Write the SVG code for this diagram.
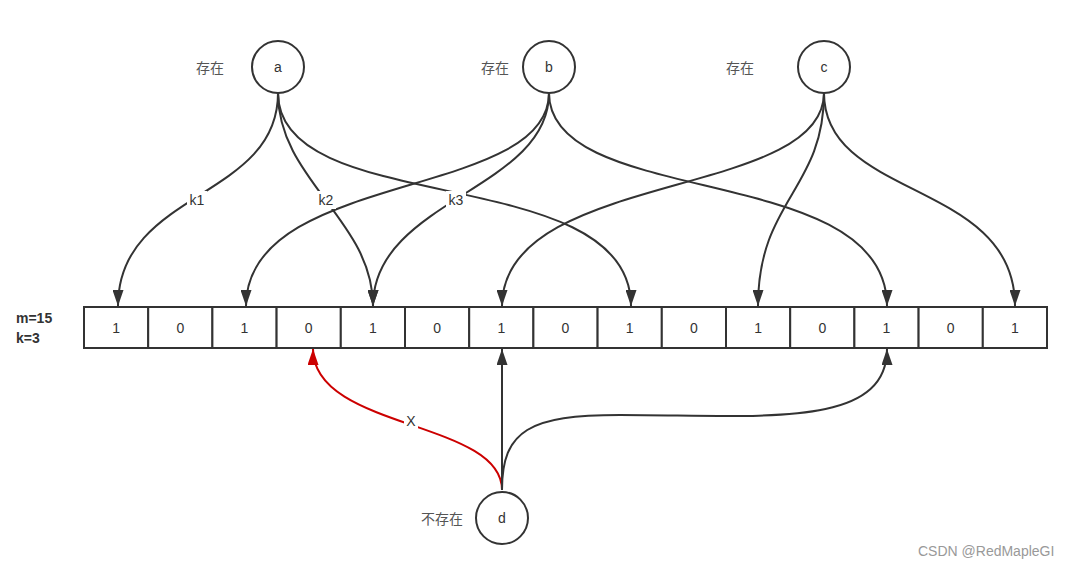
<svg xmlns="http://www.w3.org/2000/svg" width="1079" height="569" viewBox="0 0 1079 569">
<style>
.n{fill:#fff;stroke:#333;stroke-width:2}
.t{font-family:"Liberation Sans","Noto Sans CJK SC",sans-serif;font-size:14px;fill:#333;text-anchor:middle;dominant-baseline:central}
.g{font-family:"Noto Sans CJK SC","Liberation Sans",sans-serif;font-size:14px;fill:#555;text-anchor:middle;dominant-baseline:central}
.e{fill:none;stroke:#333;stroke-width:2}
.r{fill:none;stroke:#CC0000;stroke-width:2}
.cell{fill:#fff;stroke:#333;stroke-width:2}
.lb{fill:#fff}
</style>
<defs>
<marker id="ah" viewBox="0 0 16 11" refX="16" refY="5.5" markerWidth="16" markerHeight="11" markerUnits="userSpaceOnUse" orient="auto"><path d="M0,0 L16,5.5 L0,11 Z" fill="#333"/></marker>
<marker id="ahr" viewBox="0 0 16 11" refX="16" refY="5.5" markerWidth="16" markerHeight="11" markerUnits="userSpaceOnUse" orient="auto"><path d="M0,0 L16,5.5 L0,11 Z" fill="#CC0000"/></marker>
</defs>
<rect width="1079" height="569" fill="#fff"/>
<g id="connectors">
<path class="e" d="M278 93 C 278 200 118 190 118 306" marker-end="url(#ah)"/>
<path class="e" d="M278 93 C 278 180 373 220 373 306" marker-end="url(#ah)"/>
<path class="e" d="M278 93 C 278 220 631 160 631 306" marker-end="url(#ah)"/>
<path class="e" d="M549 93 C 549 200 246 170 246 306" marker-end="url(#ah)"/>
<path class="e" d="M549 93 C 549 190 373 200 373 306" marker-end="url(#ah)"/>
<path class="e" d="M549 93 C 549 210 887 160 887 306" marker-end="url(#ah)"/>
<path class="e" d="M824 93 C 824 200 502 170 502 306" marker-end="url(#ah)"/>
<path class="e" d="M824 93 C 824 190 758 200 758 306" marker-end="url(#ah)"/>
<path class="e" d="M824 93 C 824 200 1015 180 1015 306" marker-end="url(#ah)"/>
<path class="r" d="M502 490 C 502 420 313 430 313 349" marker-end="url(#ahr)"/>
<path class="e" d="M502 490 L 502 349" marker-end="url(#ah)"/>
<path class="e" d="M502 490 C 502 430 530 415 620 415 C 760 415 887 430 887 349" marker-end="url(#ah)"/>
<rect class="lb" x="187" y="191" width="20" height="18"/>
<text class="t" x="197" y="200">k1</text>
<rect class="lb" x="316" y="191" width="20" height="18"/>
<text class="t" x="326" y="200">k2</text>
<rect class="lb" x="446" y="191" width="20" height="18"/>
<text class="t" x="456" y="200">k3</text>
<rect class="lb" x="404" y="412" width="14" height="18"/>
<text class="t" x="411" y="421">X</text>
</g>
<g id="node-a"><circle class="n" cx="278" cy="67" r="26"/><text class="t" x="278" y="67">a</text></g>
<g id="node-b"><circle class="n" cx="549" cy="67" r="26"/><text class="t" x="549" y="67">b</text></g>
<g id="node-c"><circle class="n" cx="824" cy="67" r="26"/><text class="t" x="824" y="67">c</text></g>
<g id="node-d"><circle class="n" cx="502" cy="518" r="26"/><text class="t" x="502" y="518">d</text></g>
<g id="label-a"><text class="g" x="210" y="67">存在</text></g>
<g id="label-b"><text class="g" x="495" y="67">存在</text></g>
<g id="label-c"><text class="g" x="740" y="67">存在</text></g>
<g id="label-d"><text class="g" x="442" y="518">不存在</text></g>
<g id="params">
<text font-family="'Liberation Sans',sans-serif" font-size="14" font-weight="bold" fill="#333" x="16" y="323">m=15</text>
<text font-family="'Liberation Sans',sans-serif" font-size="14" font-weight="bold" fill="#333" x="16" y="343">k=3</text>
</g>
<g id="array">
<rect class="cell" x="84" y="307" width="64.2" height="41"/><text class="t" x="116.1" y="328">1</text>
<rect class="cell" x="148.2" y="307" width="64.2" height="41"/><text class="t" x="180.3" y="328">0</text>
<rect class="cell" x="212.4" y="307" width="64.2" height="41"/><text class="t" x="244.5" y="328">1</text>
<rect class="cell" x="276.6" y="307" width="64.2" height="41"/><text class="t" x="308.7" y="328">0</text>
<rect class="cell" x="340.8" y="307" width="64.2" height="41"/><text class="t" x="372.9" y="328">1</text>
<rect class="cell" x="405" y="307" width="64.2" height="41"/><text class="t" x="437.1" y="328">0</text>
<rect class="cell" x="469.2" y="307" width="64.2" height="41"/><text class="t" x="501.3" y="328">1</text>
<rect class="cell" x="533.4" y="307" width="64.2" height="41"/><text class="t" x="565.5" y="328">0</text>
<rect class="cell" x="597.6" y="307" width="64.2" height="41"/><text class="t" x="629.7" y="328">1</text>
<rect class="cell" x="661.8" y="307" width="64.2" height="41"/><text class="t" x="693.9" y="328">0</text>
<rect class="cell" x="726" y="307" width="64.2" height="41"/><text class="t" x="758.1" y="328">1</text>
<rect class="cell" x="790.2" y="307" width="64.2" height="41"/><text class="t" x="822.3" y="328">0</text>
<rect class="cell" x="854.4" y="307" width="64.2" height="41"/><text class="t" x="886.5" y="328">1</text>
<rect class="cell" x="918.6" y="307" width="64.2" height="41"/><text class="t" x="950.7" y="328">0</text>
<rect class="cell" x="982.8" y="307" width="64.2" height="41"/><text class="t" x="1014.9" y="328">1</text>
</g>
<text font-family="'Liberation Sans',sans-serif" font-size="14" fill="#999" x="918" y="556">CSDN @RedMapleGI</text>
</svg>
